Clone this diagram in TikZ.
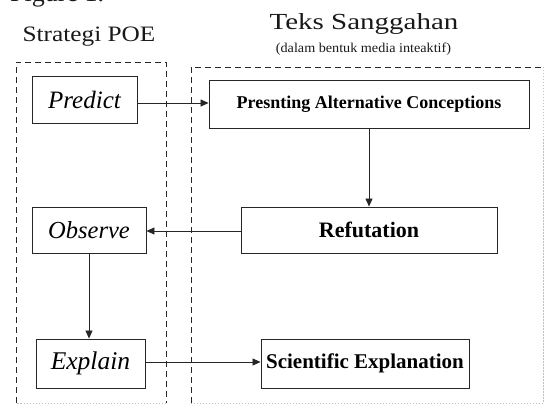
\documentclass[tikz,border=0pt]{standalone}
\usepackage{fontspec}
\usepackage{graphicx}
\setmainfont{Liberation Serif}
\usetikzlibrary{arrows.meta}
\begin{document}
\begin{tikzpicture}[x=1pt,y=-1pt,
  box/.style={draw=black!85,line width=0.9pt,inner sep=0pt},
  frame/.style={draw=black!85,line width=0.8pt,dash pattern=on 6pt off 4pt},
  faint/.style={draw=black!25,line width=0.8pt,dash pattern=on 1.5pt off 1.5pt},
  arr/.style={draw=black!85,line width=0.8pt,-{Triangle[length=8pt,width=7pt]}},
  lbl/.style={inner sep=0pt,text=black!90}]
\useasboundingbox (0,0) rectangle (545,406);
\clip (0,0) rectangle (545,406);
% partially visible caption
\node[lbl,anchor=base west] (fig) at (10,2) {\fontsize{26}{28}\selectfont Figure 1.};
% headings
\node[lbl] (h1) at (89,37) {\fontsize{22}{24}\selectfont\scalebox{1.15}[1]{Strategi POE}};
\node[lbl] (h2) at (364,24) {\fontsize{23}{25}\selectfont\scalebox{1.26}[1]{Teks Sanggahan}};
\node[lbl] (h3) at (363.5,49) {\fontsize{13.5}{15}\selectfont\scalebox{1.05}[1]{(dalam bentuk media inteaktif)}};
% dashed frames
\coordinate (l1) at (16,62); \coordinate (l2) at (166,62);
\coordinate (l3) at (166,403); \coordinate (l4) at (16,403);
\draw[frame] (l4) -- (l1) -- (l2) -- (l3);
\draw[faint] (l3) -- (l4);
\coordinate (r1) at (191,67); \coordinate (r2) at (543,67);
\coordinate (r3) at (543,403); \coordinate (r4) at (191,403);
\draw[frame] (r4) -- (r1) -- (r2);
\draw[faint] (r2) -- (r3) -- (r4);
% boxes
\node[box,minimum width=105pt,minimum height=47pt] (pred) at (84.5,99.5) {\fontsize{25}{28}\selectfont\itshape Predict};
\node[box,minimum width=114pt,minimum height=46pt] (obs) at (89,230) {\fontsize{24.5}{28}\selectfont\itshape Observe};
\node[box,minimum width=109pt,minimum height=49pt] (expl) at (90.5,363.5) {\fontsize{25.5}{28}\selectfont\itshape Explain};
\node[box,minimum width=320pt,minimum height=48pt] (pac) at (369,104) {\fontsize{18}{21}\selectfont\bfseries Presnting Alternative Conceptions};
\node[box,minimum width=256pt,minimum height=46pt] (ref) at (369,230) {\fontsize{22}{25}\selectfont\bfseries Refutation};
\node[box,minimum width=208pt,minimum height=49pt] (sci) at (365,363.5) {\fontsize{21}{24}\selectfont\bfseries Scientific Explanation};
% connectors
\draw[arr] (pred.east |- 0,103) -- (pac.west |- 0,103);
\draw[arr] (pac.south -| 369,0) -- (ref.north -| 369,0);
\draw[arr] (ref.west |- 0,231) -- (obs.east |- 0,231);
\draw[arr] (obs.south -| 89,0) -- (expl.north -| 89,0);
\draw[arr] (expl.east |- 0,362) -- (sci.west |- 0,362);
\end{tikzpicture}
\end{document}
